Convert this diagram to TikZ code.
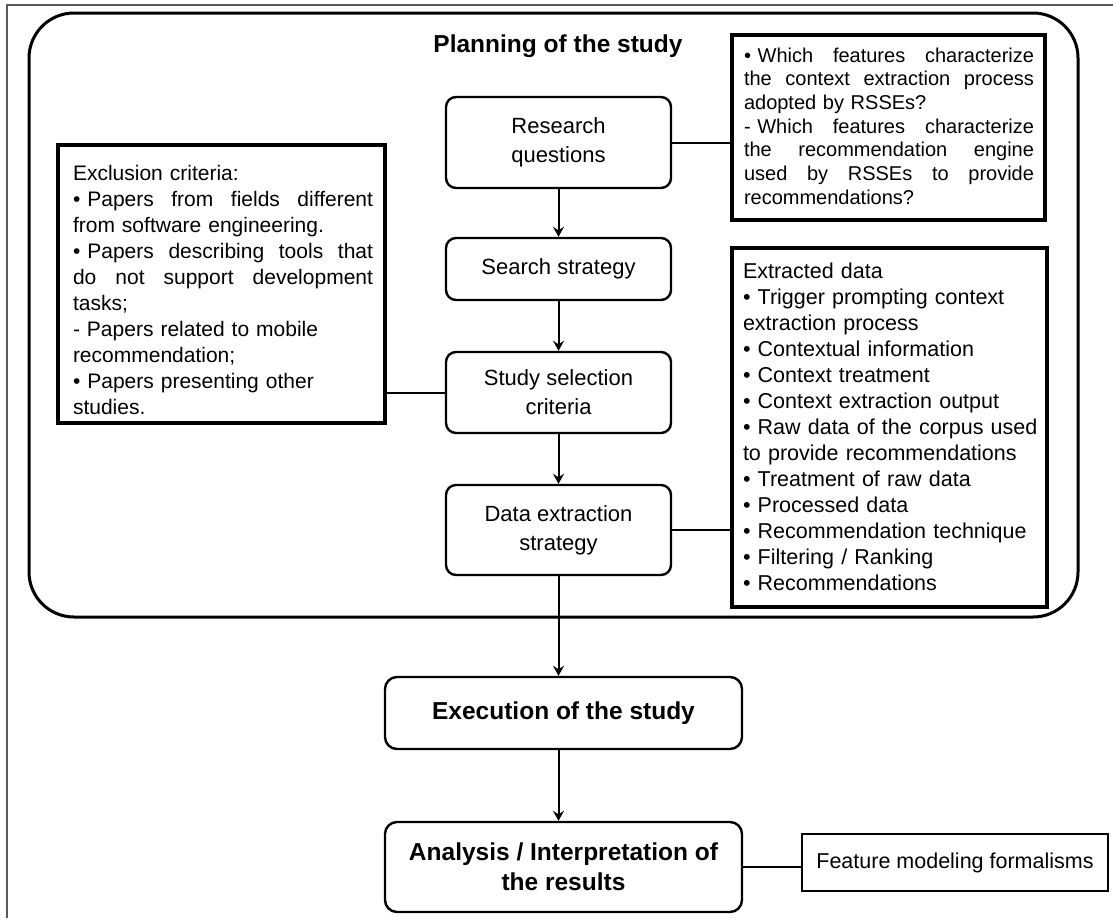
\documentclass[tikz,border=0pt]{standalone}
\usepackage{fontspec}
\setmainfont{Liberation Sans}
\usetikzlibrary{arrows.meta}
% a line of a note spread to a given width (words split by \hfill)
\newcommand\jline[2]{\leavevmode\hbox to #1{#2}}
\begin{document}
\begin{tikzpicture}[x=1pt,y=-1pt,
  flowbox/.style={draw, line width=2.4pt, rounded corners=10pt, align=center,
    inner sep=0pt, minimum width=225pt, font=\fontsize{22}{29}\selectfont},
  stagebox/.style={draw, line width=2.4pt, rounded corners=12pt, align=center,
    inner sep=0pt, minimum width=357pt, font=\bfseries\fontsize{24.5}{30}\selectfont},
  notebox/.style={draw, line width=3.2pt, inner sep=0pt},
  notetext/.style={inner sep=0pt, align=left},
  link/.style={line width=2pt},
  flow/.style={line width=2pt, -{Stealth[length=10pt,width=11pt,inset=3.5pt]}},
]
\useasboundingbox (0,0) rectangle (1113,918);

% page frame
\draw[line width=1.6pt, black!65] (7,918) -- (7,5) -- (1113,5);

% planning phase
\draw[line width=3pt, rounded corners=45pt] (29,13) rectangle (1078,617);
\node[font=\bfseries\fontsize{24.5}{30}\selectfont] (plan) at (558,46) {Planning of the study};

\node[flowbox, minimum height=91pt] (rq) at (558.5,142.5) {Research\\questions};
\node[flowbox, minimum height=62pt] (ss) at (558.5,269) {Search strategy};
\node[flowbox, minimum height=81pt] (sc) at (558.5,392.5) {Study selection\\criteria};
\node[flowbox, minimum height=90pt] (de) at (558.5,530) {Data extraction\\strategy};

% notes attached to the planning steps
\node[notebox, minimum width=313pt, minimum height=185pt] (rqnote) at (888.5,127.5) {};
\node[notetext, text width=290pt, font=\fontsize{20}{23.7}\selectfont]
  (rqtext) at (889,126) {%
\jline{290pt}{• Which \hfill features \hfill characterize}\\
\jline{290pt}{the \hfill context \hfill extraction \hfill process}\\
adopted by RSSEs?\\
\jline{290pt}{- Which \hfill features \hfill characterize}\\
\jline{290pt}{the \hfill recommendation \hfill engine}\\
\jline{290pt}{used \hfill by \hfill RSSEs \hfill to \hfill provide}\\
recommendations?};

\node[notebox, minimum width=327pt, minimum height=278pt] (excl) at (221.5,284) {};
\node[notetext, text width=300pt, font=\fontsize{21}{26.1}\selectfont]
  (excltext) at (223,290) {%
Exclusion criteria:\\
\jline{300pt}{• Papers \hfill from \hfill fields \hfill different}\\
from software engineering.\\
\jline{300pt}{• Papers \hfill describing \hfill tools \hfill that}\\
\jline{300pt}{do \hfill not \hfill support \hfill development}\\
tasks;\\
- Papers related to mobile\\
recommendation;\\
• Papers presenting other\\
studies.};

\node[notebox, minimum width=315pt, minimum height=359pt] (ext) at (889.5,427.5) {};
\node[notetext, text width=300pt, font=\fontsize{21.5}{26}\selectfont]
  (exttext) at (893,427) {%
Extracted data\\
• Trigger prompting context\\
extraction process\\
• Contextual information\\
• Context treatment\\
• Context extraction output\\
• Raw data of the corpus used\\
to provide recommendations\\
• Treatment of raw data\\
• Processed data\\
• Recommendation technique\\
• Filtering / Ranking\\
• Recommendations};

% later phases
\node[stagebox, minimum height=72pt] (ex) at (563.5,713) {Execution of the study};
\node[stagebox, minimum height=90pt] (an) at (563.5,867) {Analysis / Interpretation of\\the results};
\node[draw, line width=2.4pt, minimum width=306pt, minimum height=57pt, inner sep=0pt,
      font=\fontsize{21.5}{26}\selectfont] (fm) at (955,862.5) {Feature modeling formalisms};

% flow of the study
\draw[flow] (rq.south) -- (ss.north);
\draw[flow] (ss.south) -- (sc.north);
\draw[flow] (sc.south) -- (de.north);
\draw[flow] (de.south) -- (de.south |- ex.north);
\draw[flow] (ex.south -| de.south) -- (de.south |- an.north);

% links to the notes
\draw[link] (rq.east) -- (rq.east -| rqnote.west);
\draw[link] (sc.west) -- (sc.west -| excl.east);
\draw[link] (de.east) -- (de.east -| ext.west);
\draw[link] (an.east) -- (an.east -| fm.west);
\end{tikzpicture}
\end{document}
